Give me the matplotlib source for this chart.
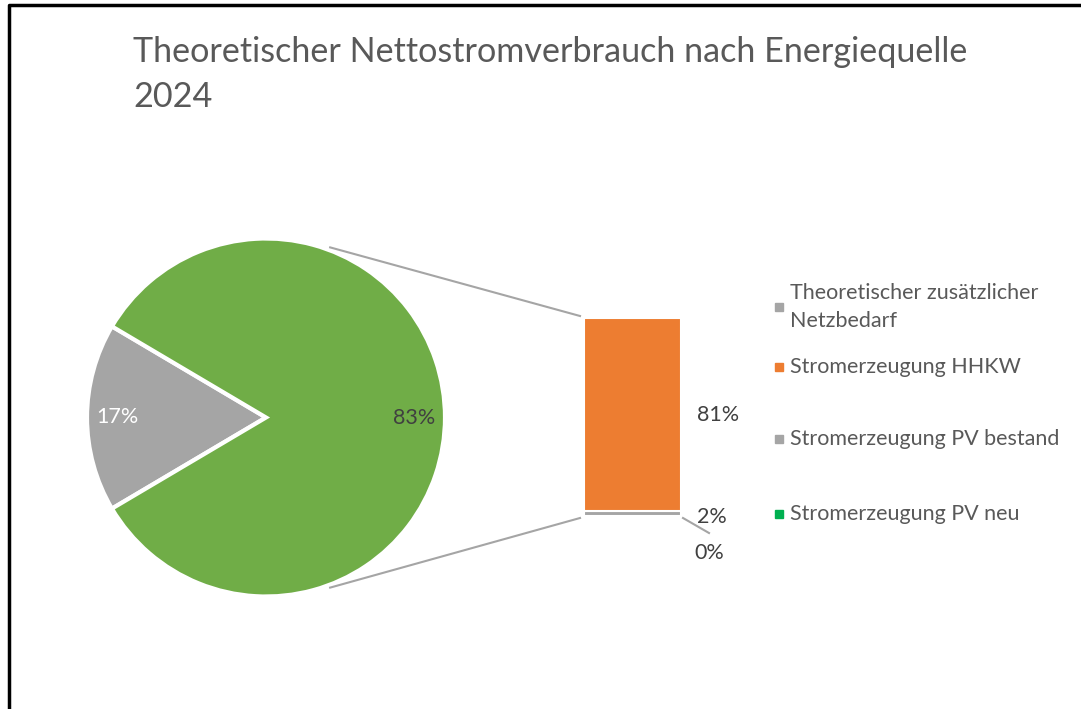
import matplotlib
matplotlib.use("Agg")
import matplotlib.pyplot as plt
import numpy as np
from matplotlib.patches import Rectangle
from matplotlib.lines import Line2D

# ---- data ----
title = "Theoretischer Nettostromverbrauch nach Energiequelle\n2024"
pie_labels = ["Theoretischer zusätzlicher Netzbedarf", "Andere"]
pie_values = [17, 83]
bar_labels = ["Stromerzeugung HHKW", "Stromerzeugung PV bestand", "Stromerzeugung PV neu"]
bar_values = [81, 2, 0]
legend_labels = ["Theoretischer zusätzlicher\nNetzbedarf", "Stromerzeugung HHKW",
                 "Stromerzeugung PV bestand", "Stromerzeugung PV neu"]

# ---- style ----
C_GREEN = "#70AD47"
C_GRAY = "#A5A5A5"
C_ORANGE = "#ED7D31"
C_NEWGREEN = "#00B050"
legend_colors = [C_GRAY, C_ORANGE, C_GRAY, C_NEWGREEN]
FONT = "Lato"
TXT = "#595959"
LBL = "#404040"
LFS = 15.5

W, H = 1081, 709
fig = plt.figure(figsize=(W / 100, H / 100), dpi=100)
ax = fig.add_axes([0, 0, 1, 1])

# pie
cx, cy, R = 266, 417.5, 179
span = pie_values[0] / sum(pie_values) * 360
wedges, texts, autotexts = ax.pie(
    pie_values, colors=[C_GRAY, C_GREEN], startangle=180 - span / 2,
    center=(cx, cy), radius=R, frame=True,
    wedgeprops=dict(edgecolor="white", linewidth=3),
    autopct="%.0f%%", pctdistance=0.83,
    textprops=dict(fontsize=LFS, family=FONT))
autotexts[0].set_color("white")
autotexts[1].set_color(LBL)

# bar (stacked bottom-up: PV neu, PV bestand, HHKW)
bx, bw = 584, 97
bar_bottom = 516
total_h = 198
scale = total_h / sum(bar_values)
order = [2, 1, 0]
bar_cols = [C_ORANGE, C_GRAY, C_NEWGREEN]
bottom = bar_bottom
seg_pos = {}
for i in order:
    h = bar_values[i] * scale
    ax.bar(bx + bw / 2, -h, bottom=bottom, width=bw, color=bar_cols[i],
           edgecolor="white", linewidth=1.5, zorder=3)
    seg_pos[i] = bottom - h / 2
    bottom -= h
bar_top = bottom

# connector lines
ang = np.deg2rad(69)
px = cx + R * np.cos(ang)
ax.add_line(Line2D([px, bx - 4], [cy - R * np.sin(ang) - 3, bar_top - 2], color=C_GRAY, lw=1.5))
ax.add_line(Line2D([px, bx - 4], [cy + R * np.sin(ang) + 3, bar_bottom + 2], color=C_GRAY, lw=1.5))

# bar labels
lx = bx + bw + 37
ax.text(lx, seg_pos[0], f"{bar_values[0]}%", ha="center", va="center", fontsize=LFS, family=FONT, color=LBL)
ax.text(lx - 6, seg_pos[1] + 3, f"{bar_values[1]}%", ha="center", va="center", fontsize=LFS, family=FONT, color=LBL)
ax.text(lx - 9, seg_pos[2] + 37, f"{bar_values[2]}%", ha="center", va="center", fontsize=LFS, family=FONT, color=LBL)
ax.add_line(Line2D([bx + bw + 2, bx + bw + 28], [bar_bottom + 2, bar_bottom + 17], color=C_GRAY, lw=1.5))

# title
ax.text(133, 36, title, ha="left", va="top", fontsize=24.6, family=FONT, color=TXT,
        linespacing=1.5)

# legend
ly = [307, 367, 439, 514]
for y, lab, col in zip(ly, legend_labels, legend_colors):
    ax.add_patch(Rectangle((775, y - 4), 8, 8, color=col))
    ax.text(790, y, lab, ha="left", va="center", fontsize=LFS, family=FONT, color=TXT,
            linespacing=1.55)

# border
ax.add_line(Line2D([9, 9, W + 5], [H + 5, 5, 5], color="black", lw=2.5))

ax.set_xlim(0, W)
ax.set_ylim(H, 0)
ax.set_aspect("auto")
ax.axis("off")
fig.savefig("out.png", dpi=100)
